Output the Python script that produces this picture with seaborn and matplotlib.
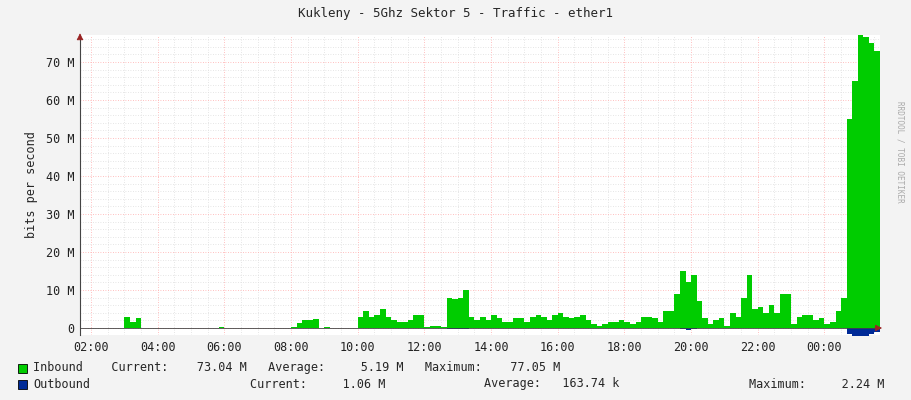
import numpy as np
import pandas as pd
import matplotlib
matplotlib.use('Agg')
import matplotlib.pyplot as plt
import seaborn as sns
from matplotlib.patches import Rectangle

# 10-minute samples starting 01:40, values in Mbit/s
start_hour = 1 + 40 / 60
inbound = [
    0, 0, 0, 0, 0, 0, 0, 0,
    3, 1.5, 2.5, 0, 0, 0,
    0, 0, 0, 0, 0, 0, 0, 0, 0, 0, 0, 0.2,
    0, 0, 0, 0, 0, 0, 0, 0, 0, 0, 0, 0,
    0.3, 1.2, 2, 2.2, 2.3, 0,
    0.3, 0, 0, 0, 0, 0,
    3, 4.5, 3, 3.5, 5, 3,
    2, 1.5, 1.5, 2, 3.5, 3.5,
    0.3, 0.5, 0.5, 0.3, 8, 7.5,
    8, 10, 3, 2, 3, 2,
    3.5, 2.5, 1.5, 1.5, 2.5, 2.5,
    1.5, 3, 3.5, 3, 2, 3.5,
    4, 3, 2.5, 3, 3.5, 2,
    1, 0.5, 1, 1.5, 1.5, 2,
    1.5, 1, 1.5, 3, 3, 2.5,
    1.5, 4.5, 4.5, 9, 15, 12,
    14, 7, 2.5, 1, 2, 2.5,
    0.5, 4, 3, 8, 14, 5,
    5.5, 4, 6, 4, 9, 9,
    1, 3, 3.5, 3.5, 2, 2.5,
    1, 1.5, 4.5, 8, 55, 65,
    77, 76.5, 75, 73,
]
outbound = [0] * 138 + [-1.5, -2.2, -2.2, -2.0, -1.5, -1.0]
outbound[66:70] = [-0.2, -0.2, -0.3, -0.2]
outbound[108:111] = [-0.4, -0.5, -0.4]

hours = start_hour + np.arange(len(inbound)) / 6
df = pd.DataFrame({'hour': hours, 'inbound': inbound, 'outbound': outbound})
tick_hours = list(range(2, 26, 2))
tick_labels = ['02:00', '04:00', '06:00', '08:00', '10:00', '12:00',
               '14:00', '16:00', '18:00', '20:00', '22:00', '00:00']

sns.set_style('white')
plt.rcParams['font.family'] = ['DejaVu Sans Mono']

fig = plt.figure(figsize=(9.11, 4.0), dpi=100, facecolor='#f3f3f3')
ax = fig.add_axes([80 / 911, 65 / 400, 800 / 911, 300 / 400])
ax.set_facecolor('white')

x_end = start_hour + len(inbound) / 6
xs = np.append(df['hour'].values, x_end)
ax.fill_between(xs, 0, np.append(df['inbound'].values, inbound[-1]), step='post',
                color='#00cc00', linewidth=0, zorder=2)
ax.fill_between(xs, 0, np.append(df['outbound'].values, outbound[-1]), step='post',
                color='#002a97', linewidth=0, zorder=2)

ax.set_xlim(start_hour, start_hour + 24)
ax.set_ylim(-1.85, 77.1)

# grid
for h in np.arange(2, 26, 0.5):
    major = h % 2 == 0
    ax.axvline(h, color='#ffaaaa' if major else '#dddddd',
               ls=(0, (1, 2)), lw=0.6, zorder=0)
for v in np.arange(0, 78, 2):
    major = v % 10 == 0
    ax.axhline(v, color='#ffaaaa' if major else '#dddddd',
               ls=(0, (1, 2)), lw=0.6, zorder=0)
ax.axhline(0, color='#444444', lw=0.6, zorder=3)
ax.annotate('', xy=(1.006, 0.0233), xytext=(0.99, 0.0233), xycoords='axes fraction',
            arrowprops=dict(arrowstyle='-|>', color='#992222', lw=0.6))
ax.annotate('', xy=(0, 1.015), xytext=(0, 0.99), xycoords='axes fraction',
            arrowprops=dict(arrowstyle='-|>', color='#992222', lw=0.6))

ax.set_xticks(tick_hours)
ax.set_xticklabels(tick_labels)
ax.set_yticks(range(0, 80, 10))
ax.set_yticklabels(['0'] + [f'{v} M' for v in range(10, 80, 10)])
ax.tick_params(length=0, pad=4, labelsize=8.5, colors='#222222')
for s in ['top', 'right']:
    ax.spines[s].set_visible(False)
ax.spines['left'].set_color('#444444')
ax.spines['bottom'].set_visible(False)
ax.set_ylabel('bits per second', fontsize=8.5, labelpad=6)

fig.text(0.5, 0.965, 'Kukleny - 5Ghz Sektor 5 - Traffic - ether1',
         ha='center', va='center', fontsize=9)
fig.text(0.988, 0.62, 'RRDTOOL / TOBI OETIKER', rotation=270,
         ha='center', va='center', fontsize=5.5, color='#aaaaaa')

fig.patches.append(Rectangle((18 / 911, 1 - 373 / 400), 9 / 911, 9 / 400,
                             transform=fig.transFigure, facecolor='#00cc00',
                             edgecolor='black', lw=0.6))
fig.patches.append(Rectangle((18 / 911, 1 - 389 / 400), 9 / 911, 9 / 400,
                             transform=fig.transFigure, facecolor='#002a97',
                             edgecolor='black', lw=0.6))
fig.text(33 / 911, 1 - 368 / 400,
         'Inbound    Current:    73.04 M   Average:     5.19 M   Maximum:    77.05 M',
         va='center', fontsize=8.5)
fig.text(33 / 911, 1 - 384 / 400, 'Outbound', va='center', fontsize=8.5)
fig.text(250 / 911, 1 - 384 / 400, 'Current:     1.06 M', va='center', fontsize=8.5)
fig.text(484 / 911, 1 - 384 / 400, 'Average:   163.74 k', va='center', fontsize=8.5)
fig.text(749 / 911, 1 - 384 / 400, 'Maximum:     2.24 M', va='center', fontsize=8.5)

fig.savefig('out.png', dpi=100, facecolor=fig.get_facecolor())
